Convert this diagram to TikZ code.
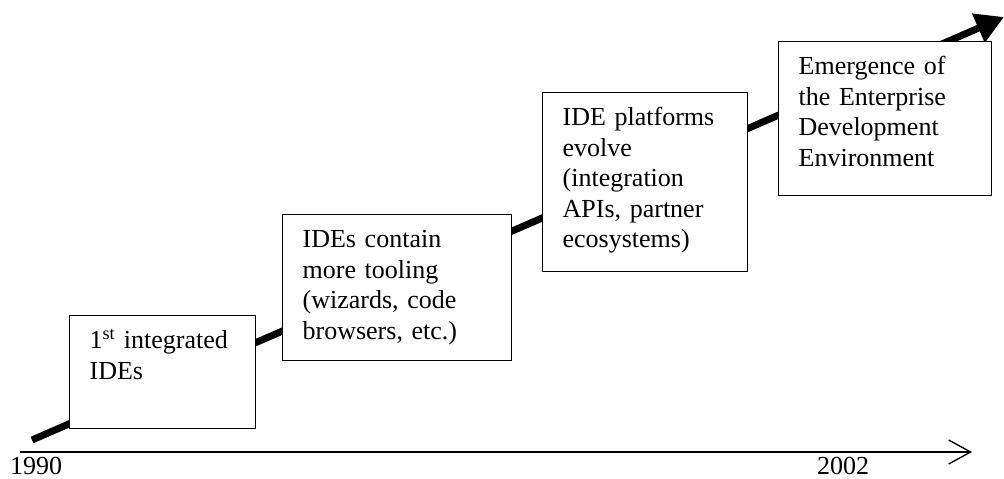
\documentclass[tikz,border=0pt]{standalone}
\usepackage{fontspec}
\setmainfont{Liberation Serif}
\usetikzlibrary{arrows.meta}

\tikzset{
  stage/.style={draw,line width=1.3pt,fill=white,anchor=north west,align=left,
    inner xsep=20pt,inner ysep=0pt,text height=33pt,font=\fontsize{26}{30.5}\selectfont},
  year/.style={font=\fontsize{26}{30.5}\selectfont,inner sep=0pt}
}

\begin{document}
\begin{tikzpicture}[x=1pt,y=-1pt]
\useasboundingbox (0,0) rectangle (1004,479);

% trend arrow behind the boxes
\coordinate (rise0) at (32,440);
\coordinate (rise1) at (1004,17);
\draw[line width=7pt,-{Triangle[length=28pt,width=30pt]}] (rise0) -- (rise1);

\node[stage,text width=146pt,text depth=80pt] (ide1) at (69,315) {1\textsuperscript{st} integrated\\IDEs};
\node[stage,text width=189pt,text depth=113pt] (ide2) at (282,214) {IDEs contain\\more tooling\\(wizards, code\\browsers, etc.)};
\node[stage,text width=165pt,text depth=146pt] (ide3) at (542,92) {IDE platforms\\evolve\\(integration\\APIs, partner\\ecosystems)};
\node[stage,text width=173pt,text depth=121pt] (ide4) at (778,41) {Emergence of\\the Enterprise\\Development\\Environment};

% time axis
\coordinate (axis0) at (20,452);
\coordinate (axis1) at (972,452);
\draw[line width=1.3pt,-{Straight Barb[length=22pt,width=24pt,line width=1.3pt]}] (axis0) -- (axis1);
\node[year] (y1990) at (36,466) {1990};
\node[year] (y2002) at (843,466) {2002};
\end{tikzpicture}
\end{document}
